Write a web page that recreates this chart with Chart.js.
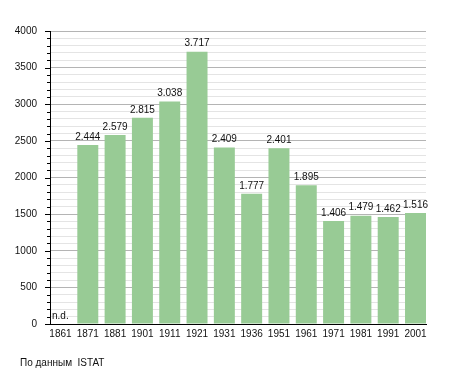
<!DOCTYPE html>
<html>
<head>
<meta charset="utf-8">
<script src="https://cdn.jsdelivr.net/npm/chart.js@4.4.0/dist/chart.umd.min.js"></script>
<style>
  html, body { margin: 0; padding: 0; background: #fff; }
  #wrap { position: relative; width: 455px; height: 373px; }
</style>
</head>
<body>
<div id="wrap"><canvas id="popChart" width="455" height="373"></canvas></div>
<script>
const years = ["1861", "1871", "1881", "1901", "1911", "1921", "1931", "1936", "1951", "1961", "1971", "1981", "1991", "2001"];
const population = [null, 2444, 2579, 2815, 3038, 3717, 2409, 1777, 2401, 1895, 1406, 1479, 1462, 1516];
const sourceNote = "По данным  ISTAT";
const missingLabel = "n.d.";

const fontFamily = "'Liberation Sans', Arial, sans-serif";
const textColor = "#111";
const barPct = 0.768; // bars flush with both ends of the x axis

// thousands with a dot, like the original
function fmt(v) {
  return String(v).replace(/\B(?=(\d{3})+(?!\d))/g, ".");
}

const labelPlugin = {
  id: "labels",
  afterDatasetsDraw(chart) {
    const ctx = chart.ctx;
    const meta = chart.getDatasetMeta(0);
    ctx.save();
    ctx.font = "10px " + fontFamily;
    ctx.fillStyle = textColor;
    ctx.textAlign = "center";
    ctx.textBaseline = "bottom";
    meta.data.forEach((bar, i) => {
      const v = population[i];
      if (v == null) {
        ctx.textAlign = "left";
        ctx.fillText(missingLabel, chart.chartArea.left + 2, chart.chartArea.bottom - 3);
        ctx.textAlign = "center";
        return;
      }
      ctx.fillText(fmt(v), bar.x, bar.y - 3);
    });
    ctx.restore();
  },
  afterDraw(chart) {
    const ctx = chart.ctx;
    const y = chart.scales.y;
    const left = chart.chartArea.left;
    ctx.save();
    // y tick marks: long for every 500, short for every 100
    ctx.strokeStyle = "#000";
    ctx.lineWidth = 1;
    ctx.beginPath();
    y.ticks.forEach(t => {
      const py = Math.round(y.getPixelForValue(t.value)) + 0.5;
      const len = t.value % 500 === 0 ? 5 : 3;
      ctx.moveTo(left - len, py);
      ctx.lineTo(left, py);
    });
    ctx.stroke();

    ctx.font = "10px " + fontFamily;
    ctx.fillStyle = textColor;
    ctx.textAlign = "left";
    ctx.textBaseline = "alphabetic";
    ctx.fillText(sourceNote, 20, 366);
    ctx.restore();
  }
};

new Chart(document.getElementById("popChart").getContext("2d"), {
  type: "bar",
  data: {
    datasets: [{
      data: population.map((v, i) => ({ x: i, y: v })),
      backgroundColor: "#98cb95",
      borderWidth: 0,
      barPercentage: barPct,
      categoryPercentage: 1.0
    }]
  },
  options: {
    responsive: false,
    animation: false,
    layout: { padding: { left: 0, right: 29, top: 31, bottom: 0 } },
    plugins: {
      legend: { display: false },
      tooltip: { enabled: false }
    },
    scales: {
      x: {
        type: "linear",
        offset: false,
        min: -barPct / 2,
        max: years.length - 1 + barPct / 2,
        afterBuildTicks(scale) {
          scale.ticks = years.map((_, i) => ({ value: i }));
        },
        grid: { display: false, drawTicks: false },
        border: { color: "#000", width: 1 },
        ticks: {
          autoSkip: false,
          maxRotation: 0,
          color: textColor,
          font: { family: fontFamily, size: 10 },
          padding: 4,
          callback: v => years[v]
        },
        afterFit(scale) { scale.height = 49; }
      },
      y: {
        min: 0,
        max: 4000,
        border: { color: "#000", width: 1 },
        grid: {
          color: c => (c.tick && c.tick.value % 500 === 0) ? "#b4b4b4" : "#e4e4e4",
          drawTicks: false
        },
        ticks: {
          stepSize: 100,
          autoSkip: false,
          color: textColor,
          font: { family: fontFamily, size: 10 },
          padding: 13,
          callback: v => (v % 500 === 0 ? String(v) : "")
        },
        afterFit(scale) { scale.width = 50; }
      }
    }
  },
  plugins: [labelPlugin]
});
</script>
</body>
</html>
